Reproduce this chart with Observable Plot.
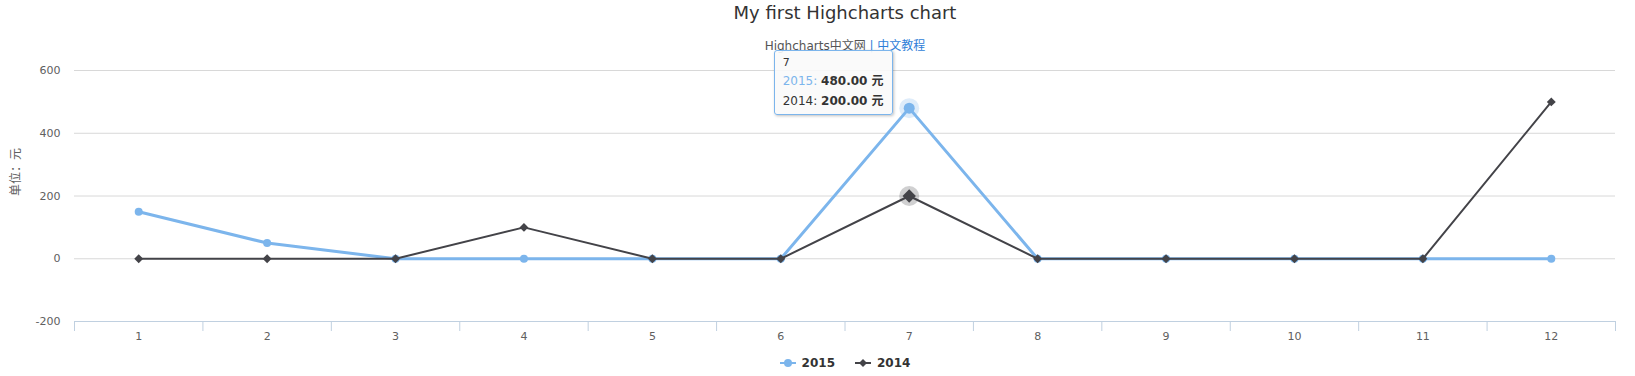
<!DOCTYPE html>
<html>
<head>
<meta charset="utf-8">
<script src="https://cdn.jsdelivr.net/npm/d3@7"></script>
<script src="https://cdn.jsdelivr.net/npm/@observablehq/plot@0.6"></script>
<style>
  body { margin: 0; background: #fff; font-family: "DejaVu Sans", "Noto Sans CJK SC", sans-serif; }
  #wrap { position: relative; width: 1635px; height: 376px; overflow: hidden; }
  #header { position: relative; height: 60px; }
  #title { position: absolute; left: 0; width: 1690px; top: 2px; text-align: center; font-size: 18px; color: #333333; }
  #subtitle { position: absolute; left: 0; width: 1690px; top: 36px; text-align: center; font-size: 12px; color: #555555; }
  #subtitle .link { color: #2f7ed8; }
  #chart { position: relative; height: 290px; }
  #legend { position: relative; height: 26px; width: 1690px; display: flex; justify-content: center; align-items: center; font-size: 12px; font-weight: bold; color: #333333; }
  .item { display: flex; align-items: center; margin: 0 10px; }
  .item svg { margin-right: 6px; }
  #tooltip { position: absolute; background: rgba(249,249,249,0.9); border: 1px solid #7cb5ec; border-radius: 3px; box-shadow: 1px 1px 3px rgba(0,0,0,0.25); font-size: 12px; color: #333333; padding: 3px 8px; line-height: 20px; white-space: nowrap; }
  #tooltip .hd { font-size: 11px; line-height: 17px; }
</style>
</head>
<body>
<div id="wrap">
  <div id="header">
    <div id="title">My first Highcharts chart</div>
    <div id="subtitle">Highcharts中文网<span class="link"> | 中文教程</span></div>
  </div>
  <div id="chart"></div>
  <div id="legend"></div>
</div>
<script>
const months = [1, 2, 3, 4, 5, 6, 7, 8, 9, 10, 11, 12];
const values2015 = [150, 50, 0, 0, 0, 0, 480, 0, 0, 0, 0, 0];
const values2014 = [0, 0, 0, 100, 0, 0, 200, 0, 0, 0, 0, 500];
const yTicks = [-200, 0, 200, 400, 600];
const seriesNames = ["2015", "2014"];
const seriesColors = ["#7cb5ec", "#434348"];
const hoverMonth = 7;
const yTitle = "单位：元";

const data2015 = months.map((m, i) => ({month: m, value: values2015[i]}));
const data2014 = months.map((m, i) => ({month: m, value: values2014[i]}));
const boundaries = [0, ...months].map(m => m + 0.5);
const hover2015 = data2015.filter(d => d.month === hoverMonth);
const hover2014 = data2014.filter(d => d.month === hoverMonth);

const chart = Plot.plot({
  width: 1635,
  height: 290,
  marginTop: 10,
  marginBottom: 29,
  marginLeft: 74,
  marginRight: 20,
  style: {fontFamily: '"DejaVu Sans", "Noto Sans CJK SC", sans-serif', background: "white"},
  x: {type: "linear", domain: [0.5, 12.5]},
  y: {domain: [-200, 600]},
  marks: [
    Plot.ruleY(yTicks, {stroke: "#D8D8D8", strokeWidth: 1}),
    Plot.ruleY([-200], {stroke: "#C0D0E0", strokeWidth: 1}),
    Plot.axisX(boundaries, {tickSize: 10, tickFormat: () => "", color: "#C0D0E0", label: null}),
    Plot.axisX(months, {tickSize: 0, tickPadding: 11, tickFormat: d => String(d), fontSize: 11, color: "#606060", label: null}),
    Plot.axisY(yTicks, {tickSize: 0, tickPadding: 14, tickFormat: d => d < 0 ? "-" + Math.abs(d) : String(d), fontSize: 11, color: "#606060", label: null}),
    Plot.text([yTitle], {frameAnchor: "left", dx: -58, rotate: -90, fontSize: 12, fill: "#606060"}),
    Plot.dot(hover2015, {x: "month", y: "value", r: 10, fill: seriesColors[0], fillOpacity: 0.25}),
    Plot.dot(hover2014, {x: "month", y: "value", r: 10, fill: seriesColors[1], fillOpacity: 0.25}),
    Plot.line(data2015, {x: "month", y: "value", stroke: seriesColors[0], strokeWidth: 3}),
    Plot.dot(data2015.filter(d => d.month !== hoverMonth), {x: "month", y: "value", r: 4, fill: seriesColors[0]}),
    Plot.dot(hover2015, {x: "month", y: "value", r: 5.5, fill: seriesColors[0]}),
    Plot.line(data2014, {x: "month", y: "value", stroke: seriesColors[1], strokeWidth: 2}),
    Plot.dot(data2014.filter(d => d.month !== hoverMonth), {x: "month", y: "value", r: 4, symbol: "diamond2", fill: seriesColors[1]}),
    Plot.dot(hover2014, {x: "month", y: "value", r: 6, symbol: "diamond2", fill: seriesColors[1]})
  ]
});
document.getElementById("chart").appendChild(chart);

// Tooltip anchored to the hovered point through the chart's scales
const sx = chart.scale("x"), sy = chart.scale("y");
const px = sx.apply(hoverMonth);
const py = sy.apply(values2015[months.indexOf(hoverMonth)]) + 60;
const tip = document.createElement("div");
tip.id = "tooltip";
tip.innerHTML = `<div class="hd">${hoverMonth}</div>` +
  seriesNames.map((n, i) => {
    const v = (i === 0 ? values2015 : values2014)[months.indexOf(hoverMonth)];
    return `<div><span style="color:${seriesColors[i] === "#434348" ? "#333333" : seriesColors[i]}">${n}: </span><b>${v.toFixed(2)} 元</b></div>`;
  }).join("");
document.getElementById("wrap").appendChild(tip);
const tw = tip.offsetWidth, th = tip.offsetHeight;
tip.style.left = (px - 16 - tw) + "px";
tip.style.top = (py - 58) + "px";

// Legend
const legend = document.getElementById("legend");
seriesNames.forEach((n, i) => {
  const item = document.createElement("div");
  item.className = "item";
  const sym = i === 0
    ? `<circle cx="8" cy="5" r="4" fill="${seriesColors[i]}"/>`
    : `<path d="M8 1 L12 5 L8 9 L4 5 Z" fill="${seriesColors[i]}"/>`;
  item.innerHTML = `<svg width="16" height="10"><line x1="0" x2="16" y1="5" y2="5" stroke="${seriesColors[i]}" stroke-width="2"/>${sym}</svg><span>${n}</span>`;
  legend.appendChild(item);
});
</script>
</body>
</html>
